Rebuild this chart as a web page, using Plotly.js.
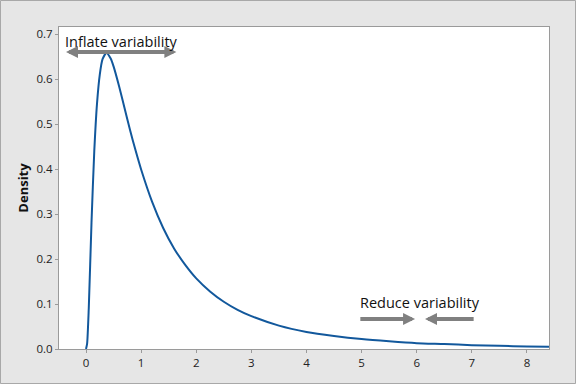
<!DOCTYPE html>
<html>
<head>
<meta charset="utf-8">
<script src="https://cdn.plot.ly/plotly-3.0.1.min.js"></script>
<style>html,body{margin:0;padding:0;background:#e6e6e6;}#chart{width:576px;height:384px;}</style>
</head>
<body>
<div id="chart"></div>
<script>
// Density curve
var xValues = [0, 0.02, 0.05, 0.1, 0.15, 0.2, 0.25, 0.3, 0.37, 0.45, 0.5, 0.6, 0.7, 0.8, 0.9, 1.0, 1.2, 1.4, 1.6, 1.8, 2.0, 2.25, 2.5, 2.75, 3.0, 3.5, 4.0, 4.5, 5.0, 5.5, 6.0, 6.5, 7.0, 7.5, 8.0, 8.4];
var densityValues = [0, 0.012, 0.090, 0.282, 0.440, 0.546, 0.610, 0.644, 0.658, 0.645, 0.628, 0.584, 0.535, 0.486, 0.441, 0.399, 0.327, 0.269, 0.223, 0.187, 0.157, 0.128, 0.105, 0.087, 0.073, 0.052, 0.038, 0.029, 0.022, 0.017, 0.013, 0.011, 0.0086, 0.0070, 0.0057, 0.0049];
var yTickValues = [0, 0.1, 0.2, 0.3, 0.4, 0.5, 0.6, 0.7];
var xTickValues = [0, 1, 2, 3, 4, 5, 6, 7, 8];
var labelInflate = "Inflate variability";
var labelReduce = "Reduce variability";

var gray = "#808080";
var trace = {
  x: xValues, y: densityValues, type: "scatter", mode: "lines",
  line: {color: "#12589c", width: 2, shape: "spline", smoothing: 0.6},
  hoverinfo: "skip"
};

var layout = {
  width: 576, height: 384,
  margin: {l: 59, r: 27, t: 27, b: 35},
  paper_bgcolor: "#e6e6e6",
  plot_bgcolor: "#ffffff",
  showlegend: false,
  font: {family: "Open Sans, Noto Sans, sans-serif", color: "#222"},
  xaxis: {
    range: [-0.49, 8.40], tickvals: xTickValues, showgrid: false, zeroline: false,
    showline: true, mirror: true, linecolor: "#9a9a9a", linewidth: 1,
    ticks: "outside", ticklen: 3, tickcolor: "#9a9a9a",
    tickfont: {size: 11.5, color: "#222", family: "Open Sans, sans-serif"}
  },
  yaxis: {
    range: [0, 0.7156], tickvals: yTickValues, tickformat: ".1f", showgrid: false, zeroline: false,
    showline: true, mirror: true, linecolor: "#9a9a9a", linewidth: 1,
    ticks: "outside", ticklen: 3, tickcolor: "#9a9a9a",
    tickfont: {size: 11.5, color: "#222", family: "Open Sans, sans-serif"},
    title: {text: "<b>Density</b>", font: {size: 13, color: "#111"}, standoff: 4}
  },
  annotations: [
    {x: 1.64, y: 0.66, ax: -0.39, ay: 0.66, xref: "x", yref: "y", axref: "x", ayref: "y",
     showarrow: true, arrowhead: 2, startarrowhead: 2, arrowside: "end+start", arrowsize: 0.6, startarrowsize: 0.6,
     arrowwidth: 4, arrowcolor: gray, text: ""},
    {x: -0.41, y: 0.684, xref: "x", yref: "y", xanchor: "left", yanchor: "middle", showarrow: false,
     text: labelInflate, font: {size: 14.5, color: "#111", family: "Open Sans, sans-serif"}},
    {x: 5.97, y: 0.0667, ax: 4.95, ay: 0.0667, xref: "x", yref: "y", axref: "x", ayref: "y",
     showarrow: true, arrowhead: 2, arrowsize: 0.6, arrowwidth: 4, arrowcolor: gray, text: ""},
    {x: 6.15, y: 0.0667, ax: 7.06, ay: 0.0667, xref: "x", yref: "y", axref: "x", ayref: "y",
     showarrow: true, arrowhead: 2, arrowsize: 0.6, arrowwidth: 4, arrowcolor: gray, text: ""},
    {x: 4.94, y: 0.104, xref: "x", yref: "y", xanchor: "left", yanchor: "middle", showarrow: false,
     text: labelReduce, font: {size: 14.5, color: "#111", family: "Open Sans, sans-serif"}}
  ],
  shapes: [
    {type: "rect", xref: "paper", yref: "paper", x0: -58.5/490, x1: 1 + 26.5/490, y0: -34.5/322, y1: 1 + 26.5/322,
     line: {color: "#a8a8a8", width: 1}, layer: "below"}
  ]
};

Plotly.newPlot("chart", [trace], layout, {displayModeBar: false, staticPlot: true});
</script>
</body>
</html>
